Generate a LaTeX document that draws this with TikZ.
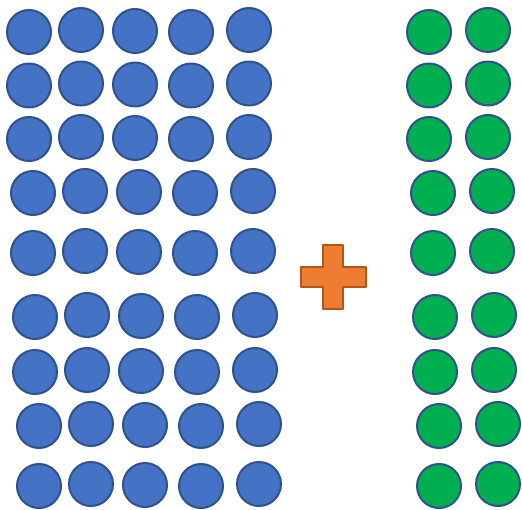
\documentclass[tikz,border=0pt]{standalone}
\definecolor{dotblue}{HTML}{4472C4}
\definecolor{dotgreen}{HTML}{00B050}
\definecolor{dotline}{HTML}{2F528F}
\definecolor{plusfill}{HTML}{ED7D31}
\definecolor{plusline}{HTML}{B4561A}

\begin{document}
\begin{tikzpicture}[
    x=1pt,
    y=-1pt,
    line join=round,
    dot/.style={
        circle,
        draw=dotline,
        line width=2pt,
        minimum size=44pt,
        inner sep=0pt
    },
    bluedot/.style={dot, fill=dotblue},
    greendot/.style={dot, fill=dotgreen},
    plussign/.style={draw=plusline, fill=plusfill, line width=1.8pt}
]
\useasboundingbox (0,0) rectangle (522,510);

% =========================
% Dots (row y / row shift)
% =========================
\foreach \y/\s [count=\r] in {32/0,85.5/0,139/0,193/4,253/4,317/6,372/6,426/10,486/10}{
    \foreach \x/\d [count=\c] in {29/0,81/-2,135/-1,191/0,249/-2}
        \node[bluedot] (b\r-\c) at (\x+\s,\y+\d) {};
    \foreach \x/\d [count=\c] in {429/0,488/-2}
        \node[greendot] (g\r-\c) at (\x+\s,\y+\d) {};
}

% =========================
% Plus sign
% =========================
\draw[plussign] (323,245) -- (343,245) -- (343,267) -- (366,267) -- (366,287)
    -- (343,287) -- (343,309) -- (323,309) -- (323,287) -- (301,287)
    -- (301,267) -- (323,267) -- cycle;

\end{tikzpicture}
\end{document}
